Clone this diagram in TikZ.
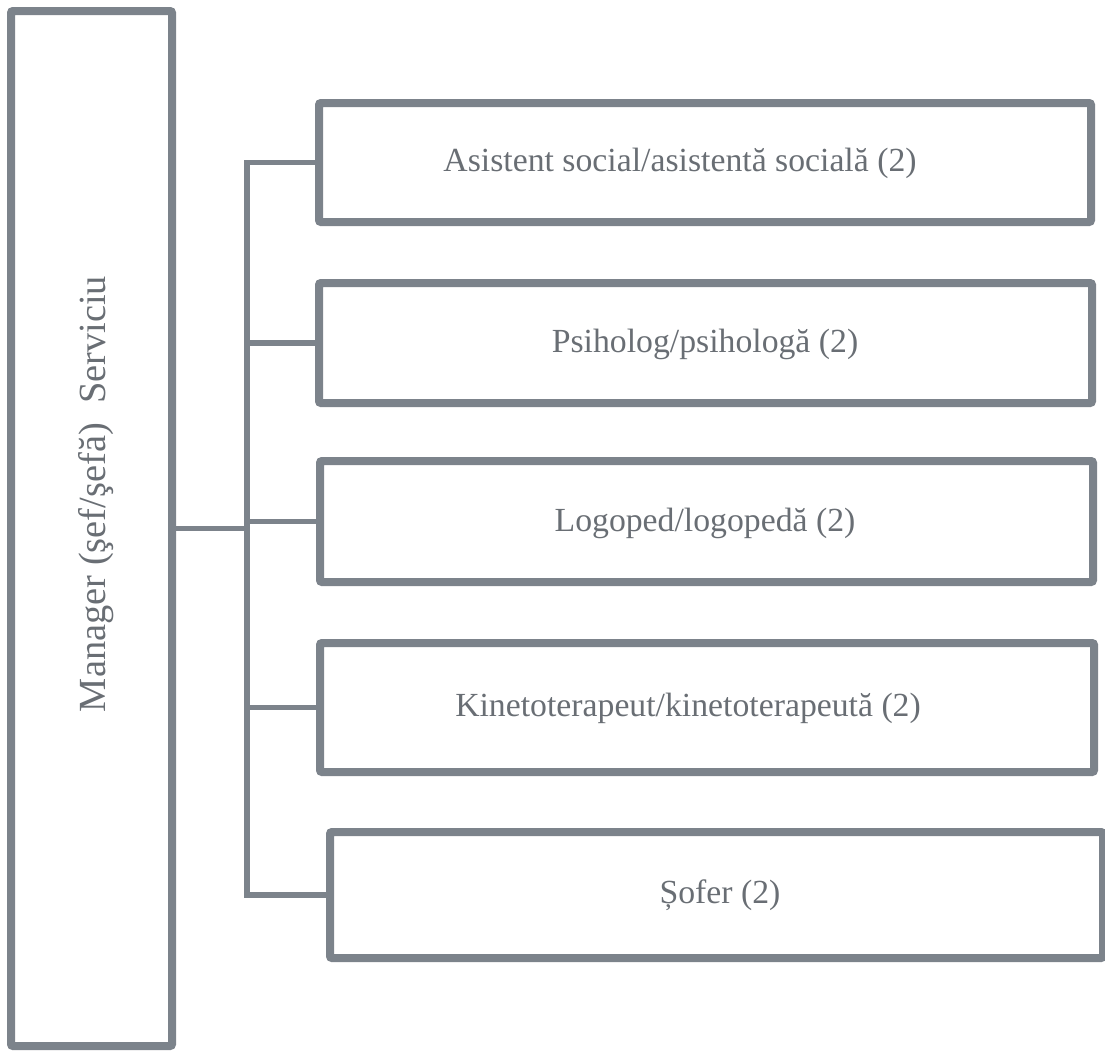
\documentclass[tikz,border=0pt]{standalone}
\usepackage{fontspec}
\setmainfont{Liberation Serif}

\definecolor{linegray}{RGB}{124,131,139}
\definecolor{textgray}{RGB}{105,110,116}

\tikzset{
  boxrect/.style={draw=linegray, line width=6pt, rounded corners=1.5pt, inner sep=0pt},
  link/.style={draw=linegray, line width=3.8pt},
  boxtext/.style={text=textgray, inner sep=0.75pt, font=\fontsize{25.3}{30}\selectfont},
}

\begin{document}
\begin{tikzpicture}[x=0.75pt,y=0.75pt,yscale=-1,xscale=1]
\useasboundingbox (0,0) rectangle (1105,1051);

%Shape: Rectangle
\node [boxrect, minimum width=120.75pt, minimum height=776.25pt] (mgr) at (91.5,528.5) {};
%Shape: Rectangle
\node [boxrect, minimum width=579pt, minimum height=89.25pt] (b1) at (705,162.5) {};
%Shape: Rectangle
\node [boxrect, minimum width=579.75pt, minimum height=90pt] (b2) at (705.5,343) {};
%Shape: Rectangle
\node [boxrect, minimum width=579.75pt, minimum height=90.75pt] (b3) at (706.5,521.5) {};
%Shape: Rectangle
\node [boxrect, minimum width=580.5pt, minimum height=96.75pt] (b4) at (707,707.5) {};
%Shape: Rectangle
\node [boxrect, minimum width=579.75pt, minimum height=94.5pt] (b5) at (716.5,895) {};

%Straight Lines
\coordinate (trunk) at (247,530);
\draw [link] (mgr.east) -- (mgr.east -| trunk);
\draw [link] (b1.west) -- (trunk |- b1.west) -- (trunk |- b5.west) -- (b5.west);
\foreach \b in {b2,b3,b4}
  \draw [link] (trunk |- \b.west) -- (\b.west);

% Text Node
\node [boxtext, rotate=90, font=\fontsize{28.8}{34}\selectfont] (mgrtext) at (96,494) {Manager (şef/şefă)\ \ Serviciu};
% Text Node
\node [boxtext] (t1) at (680,163) {Asistent social/asistentă socială (2)};
% Text Node
\node [boxtext] (t2) at (705,344) {Psiholog/psihologă (2)};
% Text Node
\node [boxtext] (t3) at (705,523) {Logoped/logopedă (2)};
% Text Node
\node [boxtext] (t4) at (688,708) {Kinetoterapeut/kinetoterapeută (2)};
% Text Node
\node [boxtext] (t5) at (720,895) {Șofer (2)};

\end{tikzpicture}
\end{document}
